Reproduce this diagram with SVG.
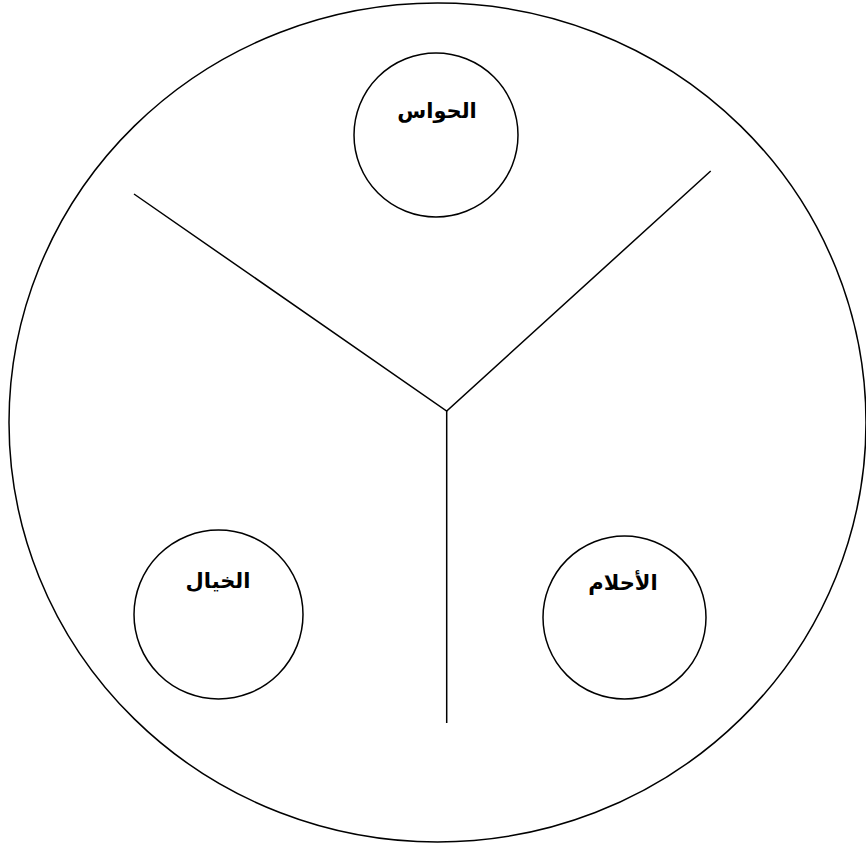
<svg xmlns="http://www.w3.org/2000/svg" width="866" height="849" viewBox="0 0 866 849">
<style>
.c{fill:none;stroke:#000;stroke-width:1.5}
.l{fill:none;stroke:#000;stroke-width:1.5}
.t{font-family:"DejaVu Sans","Liberation Sans",sans-serif;font-weight:bold;font-size:21px;text-anchor:middle;fill:#000}
</style>
<rect width="866" height="849" fill="#fff"/>
<g id="outer"><ellipse class="c" cx="437.5" cy="422.5" rx="428.5" ry="419.5"/></g>
<g id="connectors">
<polyline class="l" points="134,194 446.7,411 710.7,171"/>
<line class="l" x1="446.7" y1="411" x2="446.7" y2="723"/>
</g>
<g id="node-senses"><circle class="c" cx="436" cy="135" r="82"/><text class="t" x="437" y="118" direction="rtl">الحواس</text></g>
<g id="node-imagination"><circle class="c" cx="218.5" cy="614.5" r="84.5"/><text class="t" x="218" y="588" direction="rtl">الخيال</text></g>
<g id="node-dreams"><circle class="c" cx="624.5" cy="617.5" r="81.5"/><text class="t" x="623" y="590" direction="rtl">الأحلام</text></g>
</svg>
